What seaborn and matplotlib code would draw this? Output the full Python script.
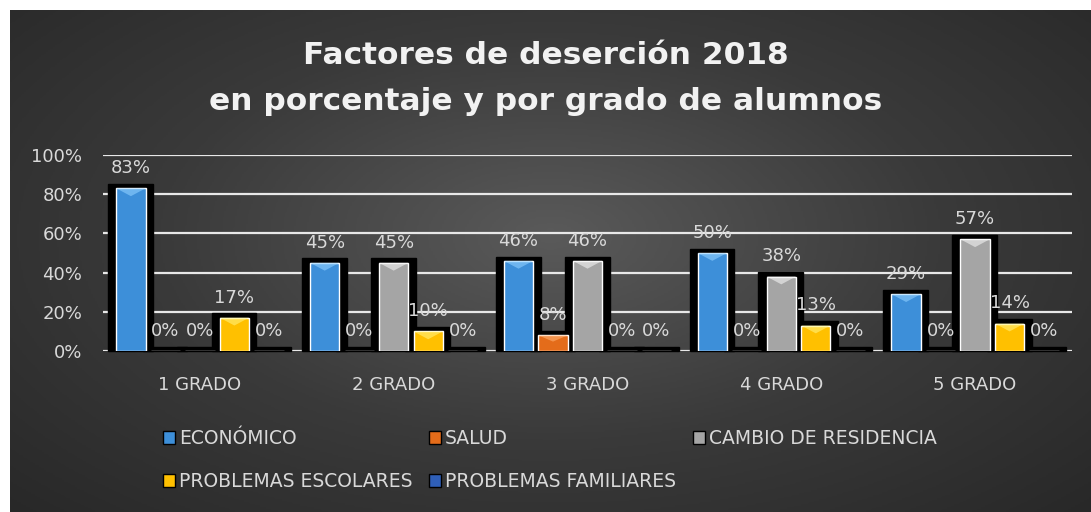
import numpy as np
import pandas as pd
import seaborn as sns
import matplotlib.pyplot as plt
from matplotlib.patches import Rectangle, Polygon

grados = ['1 GRADO', '2 GRADO', '3 GRADO', '4 GRADO', '5 GRADO']
factores = ['ECONÓMICO', 'SALUD', 'CAMBIO DE RESIDENCIA', 'PROBLEMAS ESCOLARES', 'PROBLEMAS FAMILIARES']
economico = [83, 45, 46, 50, 29]
salud = [0, 0, 8, 0, 0]
cambio = [0, 45, 46, 38, 57]
escolares = [17, 10, 0, 13, 14]
familiares = [0, 0, 0, 0, 0]
colores = ['#3d8fd9', '#e46c1a', '#a5a5a5', '#ffc000', '#2f5fb8']
claros = ['#8fd0ff', '#ffb070', '#f2f2f2', '#fff27a', '#6f9ef0']

series = [economico, salud, cambio, escolares, familiares]
df = pd.DataFrame({
    'grado': np.repeat(grados, len(factores)),
    'factor': factores * len(grados),
    'valor': [s[i] for i in range(len(grados)) for s in series],
})

sns.set_style('white')
plt.rcParams['font.family'] = ['DejaVu Sans']

fig = plt.figure(figsize=(10.91, 5.12), dpi=100, facecolor='white')

# fondo con degradado radial
bg = fig.add_axes([10 / 1091, 0, 1081 / 1091, 502 / 512])
yy, xx = np.mgrid[-1:1:300j, -1:1:600j]
r = np.sqrt((xx * 0.9) ** 2 + ((yy + 0.1) * 0.8) ** 2)
bg.imshow(np.clip(r, 0, 1.3), cmap=sns.blend_palette(['#5a5a5a', '#3a3a3a', '#272727'], as_cmap=True),
          aspect='auto', extent=[0, 1, 0, 1], vmin=0, vmax=1.3)
bg.axis('off')

ax = fig.add_axes([103 / 1091, 1 - 351 / 512, 969 / 1091, 196 / 512])
ax.patch.set_alpha(0)
sns.barplot(data=df, x='grado', y='valor', hue='factor', hue_order=factores, order=grados,
            palette=dict(zip(factores, colores)), width=0.89, gap=0.15, ax=ax,
            legend=False, saturation=1, zorder=3)

ax.set_xlim(-0.5, 4.5)
ax.set_ylim(0, 100)
ax.set_yticks(range(0, 101, 20))
ax.set_yticklabels([f'{v}%' for v in range(0, 101, 20)])
for y in range(0, 101, 20):
    ax.axhline(y, color='#e8e8e8', lw=1.6, zorder=1)
for s in ax.spines.values():
    s.set_visible(False)
ax.set_xlabel('')
ax.set_ylabel('')
ax.tick_params(axis='both', colors='#d9d9d9', labelsize=13, length=0)
ax.tick_params(axis='y', pad=15)
ax.tick_params(axis='x', pad=18)

# sombra negra y brillo superior de cada barra
for k, cont in enumerate(ax.containers):
    for p in cont.patches:
        x, w, h = p.get_x(), p.get_width(), p.get_height()
        ax.add_patch(Rectangle((x - 0.042, 0), w + 0.08, h + 2.2, color='black', zorder=2, clip_on=False))
        if h > 0:
            ax.add_patch(Polygon([(x, h), (x + w, h), (x + w / 2, h - min(4, h * 0.4))],
                                 color=claros[k], alpha=0.6, zorder=4, lw=0))
    ax.bar_label(cont, labels=[f'{v:.0f}%' for v in cont.datavalues], padding=8,
                 color='#d9d9d9', fontsize=13, zorder=5)

fig.text(0.5, 1 - 55 / 512, 'Factores de deserción 2018', ha='center', va='center',
         color='#f2f2f2', fontsize=22.5, fontweight='bold')
fig.text(0.5, 1 - 101 / 512, 'en porcentaje y por grado de alumnos', ha='center', va='center',
         color='#f2f2f2', fontsize=22.5, fontweight='bold')

handles = [Rectangle((0, 0), 1, 1, facecolor=c, edgecolor='black', lw=1) for c in colores]
orden = [0, 3, 1, 4, 2]
leg = fig.legend([handles[i] for i in orden], [factores[i] for i in orden], ncol=3,
                 loc='upper left', bbox_to_anchor=(146 / 1091, 1 - 412 / 512), frameon=False,
                 fontsize=13.5, labelcolor='#d9d9d9', handlelength=0.65, handleheight=0.65,
                 handletextpad=0.2, columnspacing=0.9, labelspacing=1.3)

fig.savefig('out.png', dpi=100, facecolor='white')
